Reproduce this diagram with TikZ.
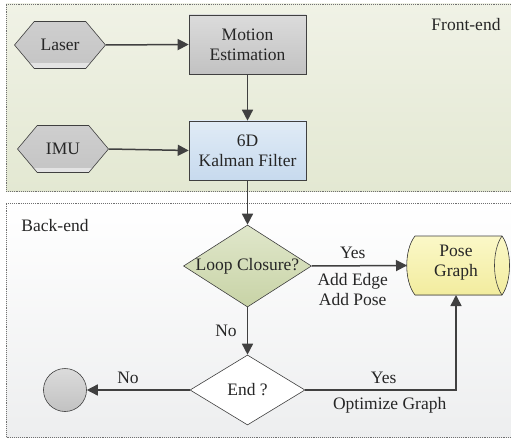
\documentclass[tikz,border=0pt]{standalone}
\usepackage{fontspec}
\setmainfont{Liberation Serif}
\usetikzlibrary{shapes.geometric,shapes.symbols,arrows.meta}
\definecolor{linec}{HTML}{404040}
\definecolor{framec}{HTML}{707070}
\definecolor{feTop}{HTML}{F0F2E6}
\definecolor{feBot}{HTML}{E3E8D2}
\definecolor{beBot}{HTML}{EDEEEF}
\definecolor{kTop}{HTML}{E0EBF6}
\definecolor{kBot}{HTML}{C7DAEE}
\definecolor{lTop}{HTML}{E0E7CB}
\definecolor{lBot}{HTML}{C8D3A6}
\definecolor{pTop}{HTML}{FBF8C8}
\definecolor{pBot}{HTML}{F2EC9E}
\begin{document}
\begin{tikzpicture}[x=1pt,y=-1pt,
  every node/.style={font=\fontsize{17.5}{20}\selectfont, text=black!85},
  frame/.style={draw=framec, densely dotted, line width=0.9pt},
  flow/.style={draw=linec, line width=1.5pt, -{Triangle[length=11pt,width=11pt]}},
  hexa/.style={shape=signal, signal to=west and east, signal pointer angle=100,
    minimum width=91pt, minimum height=47pt, inner sep=0pt, draw=linec, line width=0.6pt,
    top color=black!19, bottom color=black!23,
    path picture={\fill[black!11] (path picture bounding box.south west) rectangle ([yshift=5pt]path picture bounding box.south east);}},
  graybox/.style={rectangle, minimum width=117pt, minimum height=59pt, align=center, draw=linec, line width=0.6pt,
    top color=black!14, bottom color=black!24},
  bluebox/.style={rectangle, minimum width=117pt, minimum height=59pt, align=center, draw=linec, line width=0.6pt,
    top color=kTop, bottom color=kBot},
  decision/.style={shape=diamond, inner sep=0pt, draw=linec, line width=0.6pt},
  lbl/.style={inner sep=0pt}
]
\useasboundingbox (0,0) rectangle (511,441);
% Frames
\shade[top color=feTop, bottom color=feBot] (6,4) rectangle (520,191);
\draw[frame] (520,4) -- (6,4) -- (6,191) -- (520,191);
\shade[top color=white, bottom color=beBot] (6,203) rectangle (520,437);
\draw[frame] (520,203) -- (6,203) -- (6,437) -- (520,437);
\node[anchor=base] (fe) at (466,31) {Front-end};
\node[anchor=base] (be) at (55,231) {Back-end};

% Front-end nodes
\node[hexa] (laser) at (60,45) {Laser};
\node[hexa] (imu) at (63,149) {IMU};
\node[graybox] (motion) at (247.5,44.5) {Motion\\Estimation};
\node[bluebox] (kalman) at (247.5,150.5) {6D\\Kalman Filter};

% Back-end nodes
\node[decision, minimum width=128pt, minimum height=82pt, top color=lTop, bottom color=lBot] (loop) at (247.5,266) {\makebox[0pt][c]{Loop Closure?}};
\node[decision, minimum width=115pt, minimum height=70pt, fill=white] (end) at (247.5,390) {\makebox[0pt][c]{End ?}};
\node[circle, minimum size=43pt, inner sep=0pt, draw=linec, line width=0.6pt, top color=black!14, bottom color=black!24] (stop) at (65,390) {};

% Pose graph cylinder
\coordinate (pgW) at (407,265.5);
\coordinate (pgS) at (456,295);
\filldraw[draw=linec, line width=0.6pt, top color=pTop, bottom color=pBot]
  (415,236) .. controls (404,250) and (404,281) .. (415,295) -- (502,295)
  .. controls (512,281) and (512,250) .. (502,236) -- cycle;
\draw[linec, line width=0.6pt] (502,236) .. controls (492,250) and (492,281) .. (502,295);
\node[align=center] (pg) at (456,263) {Pose\\Graph};

% Connectors
\draw[flow] (laser.east) -- (motion.west);
\draw[flow] (imu.east) -- (kalman.west);
\draw[flow] (motion.south) -- (kalman.north);
\draw[flow] (kalman.south) -- (loop.north);
\draw[flow] (loop.east) -- (pgW) node[lbl, pos=0.43, above=6pt] (yes1) {Yes} node[lbl, pos=0.43, below=7pt, align=center] (add) {Add Edge\\Add Pose};
\draw[flow] (loop.south) -- (end.north) node[lbl, midway, left=10pt] (no1) {No};
\draw[flow] (end.west) -- (stop.east) node[lbl, pos=0.6, above=6pt] (no2) {No};
\draw[flow] (end.east) -- (pgS |- end.east) node[lbl, pos=0.52, above=6pt] (yes2) {Yes} node[lbl, pos=0.56, below=7pt] (opt) {Optimize Graph} -- (pgS);
\end{tikzpicture}
\end{document}
